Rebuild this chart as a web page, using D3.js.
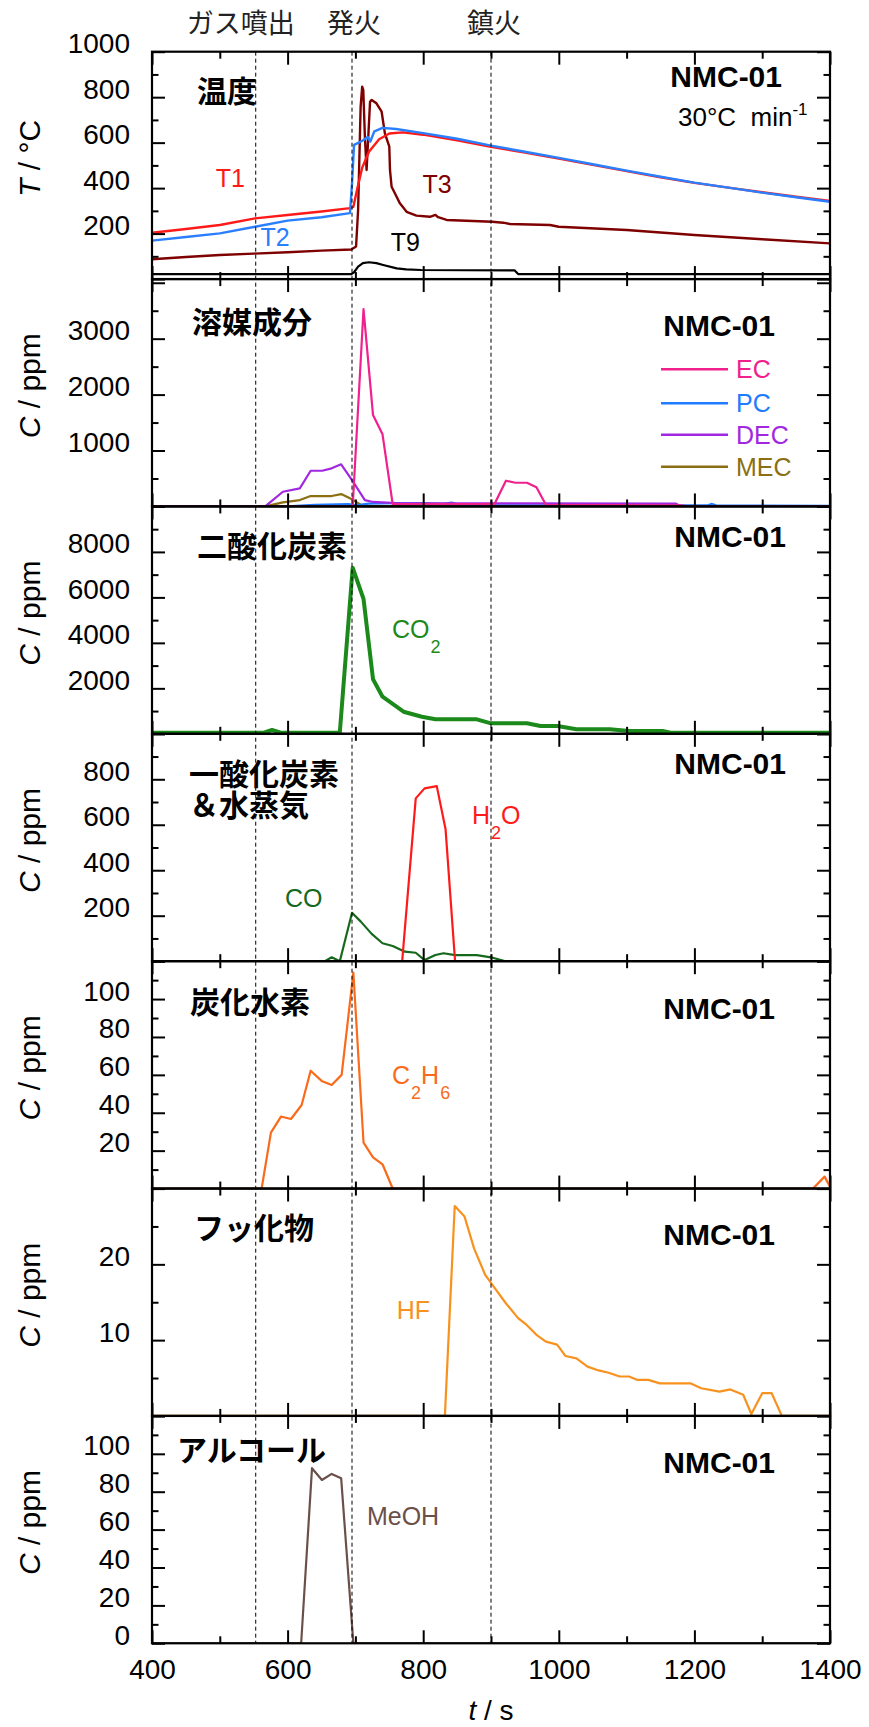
<!DOCTYPE html>
<html>
<head>
<meta charset="utf-8">
<script src="https://cdn.jsdelivr.net/npm/d3@7"></script>
<style>
  body { margin: 0; background: #fff; }
  svg text { font-family: "Liberation Sans", Arial, sans-serif; }
  svg text.jp { font-family: "Noto Sans CJK JP", sans-serif; }
</style>
</head>
<body>
<div id="canvas"></div>
<script>
// ---- data ----
const tLimits = [400, 1400];
const xMajorTicks = [400, 600, 800, 1000, 1200, 1400];
const xMinorTicks = [500, 700, 900, 1100, 1300];
const eventTimes = [553, 695, 900];
const eventNames = ["ガス噴出", "発火", "鎮火"];

// temperature, °C
const t1 = [[400,204],[450,220],[500,238],[552,267],[600,282],[650,297],[692,312],[697,318],[703,400],[710,490],[720,560],[735,615],[750,640],[770,645],[800,635],[850,610],[900,582],[950,556],[1000,530],[1050,502],[1100,475],[1150,448],[1200,423],[1250,402],[1300,382],[1350,362],[1400,343]];
const t2 = [[400,169],[450,185],[500,201],[552,230],[600,257],[650,272],[692,290],[695,420],[698,590],[705,600],[712,612],[718,625],[722,605],[728,650],[740,665],[760,660],[800,642],[850,617],[900,587],[950,560],[1000,533],[1050,505],[1100,477],[1150,450],[1200,424],[1250,402],[1300,380],[1350,360],[1400,340]];
const t3 = [[400,87],[450,97],[500,106],[550,112],[600,118],[650,125],[694,130],[701,143],[704,304],[707.7,758],[710,846],[711.6,832],[714,626],[716.5,480],[719,626],[721.6,780],[724,788],[731,773],[738.7,736],[743.5,641],[750,582],[751,480],[753.4,406],[760.8,362],[765.6,333],[775.5,296],[790,279],[810,274],[818,282],[822,272],[834.5,260],[901.7,252],[918,248],[928,242],[987,238],[1000,230],[1100,216],[1200,194],[1300,175],[1400,157]];
const t9 = [[400,22],[694,22],[698,30],[704,55],[711,70],[720,74],[731,70],[741,62],[761,47],[775,43],[797,40],[935,38],[940,22],[1400,22]];

// solvents, ppm
const ec = [[400,0],[696,0],[712,3530],[726,1634],[740,1289],[755,40],[905,40],[922,460],[936,424],[953,424],[967,342],[981,30],[1180,20],[1190,0],[1400,0]];
const pc = [[400,0],[600,0],[640,30],[690,40],[700,20],[720,50],[760,60],[800,60],[830,45],[842,70],[850,40],[900,20],[1220,20],[1225,45],[1232,20],[1400,10]];
const dec = [[400,0],[567,0],[593,263],[618,323],[634,638],[651,638],[665,681],[679,753],[695,472],[714,114],[726,80],[760,60],[1173,50],[1180,0],[1400,0]];
const mec = [[400,0],[567,0],[593,73],[618,114],[634,186],[665,186],[679,221],[695,127],[712,0],[1400,0]];

// gases, ppm
const co2 = [[400,50],[565,50],[577,167],[590,50],[677,50],[696,7305],[712,5928],[726,2396],[740,1632],[771,972],[798,752],[818,638],[879,638],[900,462],[953,462],[973,343],[998,343],[1026,198],[1075,198],[1104,123],[1153,123],[1165,50],[1400,50]];
const co = [[400,0],[655,0],[665,17],[677,0],[695,213],[708,174],[724,120],[740,79],[755,67],[773,42],[789,37],[802,5],[818,27],[830,35],[847,27],[879,27],[900,17],[920,0],[1400,0]];
const h2o = [[400,0],[769,0],[789,716],[802,760],[820,770],[833,580],[847,0],[1400,0]];
const c2h6 = [[400,0],[561.7,0],[575.4,29.5],[590.2,38],[605,36.7],[620.7,44.1],[634,62.2],[650.2,56.8],[665,54.7],[679.7,60],[697,114],[712,24.2],[726,16.5],[740,12.8],[755,0],[1375,0],[1392,6.3],[1400,1]];
const hf = [[400,0],[832,0],[846.5,27.7],[861,26.3],[875,22.1],[891.5,18.6],[903.7,17.1],[921.6,14.9],[940,12.9],[952.6,12],[967,10.7],[981,9.8],[997.5,9.4],[1010,7.9],[1026,7.6],[1042.4,6.5],[1058.8,6],[1073.5,5.7],[1089.8,5.2],[1103.7,5.2],[1116,4.75],[1132,4.75],[1149,4.3],[1194,4.3],[1210,3.65],[1237,3.2],[1253,3.5],[1272,2.8],[1284,0.26],[1300,3],[1314,3],[1329,0],[1400,0]];
const meoh = [[400,0],[620,0],[636,92.4],[650.6,86.2],[665,89.4],[679,87.1],[697,0],[1400,0]];

// panel axes
const yDomains = [[0,1000],[0,4066],[0,10000],[0,1000],[0,120],[0,30],[0,120]];
const yMinorSteps = [100, 500, 1000, 100, 10, 5, 10];
const yMajorSteps = [200, 1000, 2000, 200, 20, 10, 20];
const yLabelRanges = [[200,1000],[1000,3000],[2000,8000],[200,800],[20,100],[10,20],[0,100]];
const panelTitles = [["温度"],["溶媒成分"],["二酸化炭素"],["一酸化炭素","＆水蒸気"],["炭化水素"],["フッ化物"],["アルコール"]];
const legendNames = ["EC", "PC", "DEC", "MEC"];

// ---- layout ----
const W = 869, H = 1727;
const L = 152, R = 830, top0 = 51.7, PH = 227.37;

const svg = d3.select("#canvas").append("svg")
  .attr("width", W).attr("height", H)
  .attr("viewBox", [0, 0, W, H]);

const x = d3.scaleLinear().domain(tLimits).range([L, R]);
const ys = yDomains.map((dom, i) =>
  d3.scaleLinear().domain(dom).range([top0 + (i + 1) * PH, top0 + i * PH]));

const defs = svg.append("defs");
ys.forEach((y, i) => {
  defs.append("clipPath").attr("id", "clip" + i)
    .append("rect").attr("x", L).attr("y", y.range()[1])
    .attr("width", R - L).attr("height", PH);
});

function drawLine(i, data, color, width) {
  const y = ys[i];
  svg.append("path")
    .datum(data)
    .attr("clip-path", "url(#clip" + i + ")")
    .attr("fill", "none")
    .attr("stroke", color)
    .attr("stroke-width", width)
    .attr("stroke-linejoin", "round")
    .attr("d", d3.line().x(d => x(d[0])).y(d => y(d[1])));
}

// data lines
drawLine(0, t3, "#7f0000", 2.4);
drawLine(0, t1, "#ff1a1a", 2.4);
drawLine(0, t2, "#2a7fff", 2.4);
drawLine(0, t9, "#000", 2.2);

drawLine(1, mec, "#8b6f12", 2.2);
drawLine(1, pc, "#1f7bff", 2.2);
drawLine(1, dec, "#a128e0", 2.2);
drawLine(1, ec, "#f0208c", 2.2);

drawLine(2, co2, "#1b8a1b", 4);

drawLine(3, co, "#16691c", 2.2);
drawLine(3, h2o, "#ff1a1a", 2.2);

drawLine(4, c2h6, "#f96b1b", 2.2);
drawLine(5, hf, "#f8921e", 2.2);
drawLine(6, meoh, "#6b5049", 2.2);

// event dashed lines
svg.append("g").selectAll("line")
  .data(eventTimes)
  .enter().append("line")
    .attr("x1", d => x(d)).attr("x2", d => x(d))
    .attr("y1", top0).attr("y2", top0 + 7 * PH)
    .attr("stroke", "#000").attr("stroke-width", 1)
    .attr("stroke-dasharray", "4,3");

svg.append("g").selectAll("text")
  .data(eventNames)
  .enter().append("text")
    .attr("class", "jp")
    .attr("x", (d, i) => x(eventTimes[i]) + [-15, 2, 3][i])
    .attr("y", 33)
    .attr("text-anchor", "middle")
    .attr("font-size", 27)
    .attr("fill", "#222")
    .text(d => d);

// frames and ticks
ys.forEach((y, i) => {
  const yTop = y.range()[1], yBot = y.range()[0];
  const dom = y.domain();
  const majors = d3.range(0, dom[1] + 1e-9, yMajorSteps[i]);
  const minors = d3.range(0, dom[1] + 1e-9, yMinorSteps[i]).filter(v => !majors.includes(v));
  const lr = yLabelRanges[i];

  const gl = svg.append("g").attr("transform", `translate(${L},0)`);
  gl.call(d3.axisLeft(y).tickValues(majors).tickSize(-13).tickSizeOuter(0).tickPadding(22)
      .tickFormat(d => (d >= lr[0] && d <= lr[1]) ? d : ""));
  svg.append("g").attr("transform", `translate(${L},0)`)
    .call(d3.axisLeft(y).tickValues(minors).tickSize(-6.5).tickSizeOuter(0).tickFormat(""));
  svg.append("g").attr("transform", `translate(${R},0)`)
    .call(d3.axisRight(y).tickValues(majors).tickSize(-13).tickSizeOuter(0).tickFormat(""));
  svg.append("g").attr("transform", `translate(${R},0)`)
    .call(d3.axisRight(y).tickValues(minors).tickSize(-6.5).tickSizeOuter(0).tickFormat(""));

  svg.append("g").attr("transform", `translate(0,${yTop})`)
    .call(d3.axisTop(x).tickValues(xMajorTicks).tickSize(-13).tickSizeOuter(0).tickFormat(""));
  svg.append("g").attr("transform", `translate(0,${yTop})`)
    .call(d3.axisTop(x).tickValues(xMinorTicks).tickSize(-7).tickSizeOuter(0).tickFormat(""));
  const gb = svg.append("g").attr("transform", `translate(0,${yBot})`);
  gb.call(d3.axisBottom(x).tickValues(xMajorTicks).tickSize(-13).tickSizeOuter(0).tickPadding(16)
      .tickFormat(i === 6 ? d3.format("d") : ""));
  svg.append("g").attr("transform", `translate(0,${yBot})`)
    .call(d3.axisBottom(x).tickValues(xMinorTicks).tickSize(-7).tickSizeOuter(0).tickFormat(""));

  gl.selectAll("text").attr("y", -8);

  svg.append("rect")
    .attr("x", L).attr("y", yTop)
    .attr("width", R - L).attr("height", PH)
    .attr("fill", "none").attr("stroke", "#000").attr("stroke-width", 2.2);

  // axis title
  const cy = (yTop + yBot) / 2 - 7;
  const at = svg.append("text")
    .attr("transform", `translate(40,${cy}) rotate(-90)`)
    .attr("text-anchor", "middle")
    .attr("font-size", 30)
    .attr("xml:space", "preserve");
  at.append("tspan").attr("font-style", "italic").text(i === 0 ? "T" : "C");
  at.append("tspan").text(i === 0 ? " / °C" : " / ppm");
});

svg.selectAll(".domain").remove();
svg.selectAll(".tick line").attr("stroke", "#000").attr("stroke-width", 2);
svg.selectAll(".tick text").attr("font-size", 28).attr("fill", "#000")
  .attr("font-family", "'Liberation Sans', Arial, sans-serif");

// x-axis title
const xt = svg.append("text")
  .attr("x", (L + R) / 2).attr("y", 1720)
  .attr("text-anchor", "middle").attr("font-size", 28)
  .attr("xml:space", "preserve");
xt.append("tspan").attr("font-style", "italic").text("t");
xt.append("tspan").text(" / s");

// panel titles (Japanese) and sample names
const titleLeft = [197, 192, 197, 189, 190, 194, 177];
const titleY = [88.5, 320, 544, 772, 1000, 1226, 1448];
const nmcRight = [782, 775, 786, 786, 775, 775, 775];
const nmcY = [76, 325, 536, 763, 1008, 1234, 1462];

panelTitles.forEach((lines, i) => {
  const tt = svg.append("text")
    .attr("class", "jp")
    .attr("y", titleY[i])
    .attr("dominant-baseline", "central")
    .attr("font-size", 30).attr("font-weight", "bold");
  lines.forEach((s, j) => {
    tt.append("tspan")
      .attr("x", titleLeft[i])
      .attr("dy", j === 0 ? 0 : 31)
      .text(s);
  });
  svg.append("text")
    .attr("x", nmcRight[i]).attr("y", nmcY[i])
    .attr("text-anchor", "end").attr("dominant-baseline", "central")
    .attr("font-size", 30).attr("font-weight", "bold")
    .text("NMC-01");
});

// heating rate
const rate = svg.append("text")
  .attr("x", 678).attr("y", 126)
  .attr("font-size", 26)
  .attr("xml:space", "preserve");
rate.append("tspan").text("30°C  min");
rate.append("tspan").attr("font-size", 17).attr("dy", -11).text("-1");

// series labels
function label(i, t, v, color, parts) {
  const txt = svg.append("text")
    .attr("x", x(t)).attr("y", ys[i](v))
    .attr("font-size", 25).attr("fill", color);
  let shift = 0;
  parts.forEach(p => {
    const sub = p.startsWith("_");
    const d = sub ? 15 : 0;
    txt.append("tspan")
      .attr("font-size", sub ? 18 : 25)
      .attr("dy", d - shift)
      .attr("dx", sub ? 1 : 0)
      .text(sub ? p.slice(1) : p);
    shift = d;
  });
}
label(0, 494, 405, "#ff1a1a", ["T1"]);
label(0, 560, 147, "#2a7fff", ["T2"]);
label(0, 799, 377, "#7f0000", ["T3"]);
label(0, 752, 123, "#000", ["T9"]);
label(2, 754, 4200, "#1b8a1b", ["CO", "_2"]);
label(3, 596, 240, "#16691c", ["CO"]);
label(3, 872, 603, "#ff1a1a", ["H", "_2", "O"]);
label(4, 754, 55, "#f96b1b", ["C", "_2", "H", "_6"]);
label(5, 761, 12.8, "#f8921e", ["HF"]);
label(6, 717, 62.5, "#6b5049", ["MeOH"]);

// solvent legend
const legendColors = ["#f0208c", "#1f7bff", "#a128e0", "#8b6f12"];
const legendY = [369.3, 403.3, 434.7, 466.7];
const lg = svg.append("g");
legendNames.forEach((n, k) => {
  lg.append("line")
    .attr("x1", 661).attr("x2", 728)
    .attr("y1", legendY[k]).attr("y2", legendY[k])
    .attr("stroke", legendColors[k]).attr("stroke-width", 2.5);
  lg.append("text")
    .attr("x", 736).attr("y", legendY[k])
    .attr("dominant-baseline", "central")
    .attr("font-size", 25).attr("fill", legendColors[k])
    .text(n);
});
</script>
</body>
</html>
